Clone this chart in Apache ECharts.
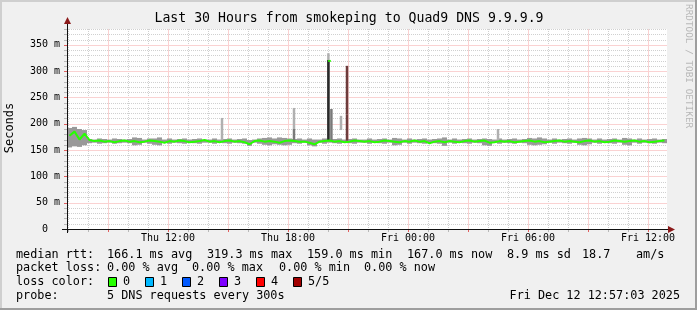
<!DOCTYPE html>
<html><head><meta charset="utf-8">
<script src="https://cdn.jsdelivr.net/npm/echarts@6/dist/echarts.min.js"></script>
<style>html,body{margin:0;padding:0;background:#f0f0f0}#c{width:697px;height:310px}</style>
</head><body><div id="c"></div>
<script>
// time in hours since Thu 00:00
const START = 6.95;          // Thu 06:57
const END = 36.95;           // Fri 12:57
const STEP = 0.25;           // one sample every 15 min
const Y_MAX = 380;

const median = [
 177,185,170,181,169,167,168,166,167,165,
 167,168,166,167,165,166,168,167,166,164,
 167,166,168,167,165,166,167,169,166,167,
 165,167,168,166,167,165,161,167,168,166,
 167,166,164,167,168,167,166,166,164,161,
 166,167,168,166,167,165,166,168,167,166,
 167,165,166,168,167,166,165,167,166,168,
 166,167,163,166,167,165,167,166,165,167,
 168,166,167,168,164,165,167,166,167,165,
 166,167,168,166,167,165,166,167,168,166,
 167,166,165,167,168,166,167,165,166,168,
 167,166,167,168,166,167,165,166,167,168
];
const smokeLo = [
 155,157,156,159,
 163,164,162,163,164,162,163,164,163,
 159,160, 164,162, 160,159,
 164,162,164,163,162,164,163,162,164,164,162,164,163,162,164,163,162,158,164,162,
 160,159,161,160,159,160,
 163,162,164,
 159,157,
 164,162,164,163,162,164,163,162,164,164,162,164,163,162,164,
 159,160,
 164,162,164,163,162,164,163,162,
 158,
 164,162,164,163,162,164,163,
 159,158,
 164,162,164,163,162,164,163,
 160,159,160,161,
 164,162,164,163,162,164,
 160,159,161,
 164,162,164,163,162,164,
 160,159,
 164,162,164,163,162,164,163
];
const smokeHi = [
 192,194,190,188,
 171,170,172,171,170,172,171,170,171,
 174,173, 170,172, 172,174,
 170,172,170,171,172,170,171,172,170,170,172,170,171,172,170,171,172,169,170,172,
 173,174,172,174,173,172,
 171,172,170,
 172,170,
 170,172,170,171,172,170,171,172,170,170,172,170,171,172,170,
 173,172,
 170,172,170,171,172,170,171,172,
 174,
 170,172,170,171,172,170,171,
 172,171,
 170,172,170,171,172,170,171,
 173,172,174,172,
 170,172,170,171,172,170,
 172,173,172,
 170,172,170,171,172,170,
 173,172,
 170,172,170,171,172,170,171
];
// isolated smoke spikes: [time, low, high, tone]
const spikes = [
 [14.70, 168, 211, 0],
 [18.30, 190, 230, 0],
 [18.30, 168, 190, 1],
 [20.02, 168, 334, 0],
 [20.02, 168, 321, 2],
 [20.17, 168, 228, 1],
 [20.65, 188, 215, 0],
 [20.95, 217, 310, 3],
 [20.95, 168, 217, 3],
 [28.50, 168, 190, 0]
];
const medianPeaks = [[20.075, 319.3]];
const tickHours = [12, 18, 24, 30, 36];
const tickLabels = ['Thu 12:00', 'Thu 18:00', 'Fri 00:00', 'Fri 06:00', 'Fri 12:00'];
const statsRtt = ['166.1 ms avg', '319.3 ms max', '159.0 ms min', '167.0 ms now', '8.9 ms sd', '18.7', 'am/s'];
const statsLoss = ['0.00 % avg', '0.00 % max', '0.00 % min', '0.00 % now'];
const lossLabels = ['0', '1', '2', '3', '4', '5/5'];
const lossColors = ['#26ff00', '#00b8ff', '#0059ff', '#7e00ff', '#ff0000', '#a10000'];
const probeText = '5 DNS requests every 300s';
const stamp = 'Fri Dec 12 12:57:03 2025';
const title = 'Last 30 Hours from smokeping to Quad9 DNS 9.9.9.9';

const MONO = 'DejaVu Sans Mono';
const MINOR = '#d0d0d0';
const MAJOR = '#fad2d2';
const TONES = ['#b0b0b0', '#7a7a7a', '#2a2a2a', '#6e3c3c'];
const SPIKE_W = 0.125;

const hours = [];
for (let h = Math.ceil(START); h <= END; h++) hours.push(h);
const levels = [];
for (let v = 10; v <= Y_MAX; v += 10) levels.push(v);

const chart = echarts.init(document.getElementById('c'), null, {renderer: 'canvas'});

const G = {left: 67, top: 29, width: 600, height: 200};
const texts = [];
function T(x, y, text, extra) {
  texts.push(Object.assign({type: 'text', x, y, silent: true, style: Object.assign({text, font: '11.8px ' + MONO, fill: '#000', textVerticalAlign: 'middle'}, extra || {})}));
}
T(349, 19, title, {font: '13.2px ' + MONO, textAlign: 'center'});
T(16, 255, 'median rtt:');
const rttX = [107, 207, 307, 407, 507, 582, 636];
statsRtt.forEach((s, i) => T(rttX[i], 255, s));
T(16, 268, 'packet loss:');
const lossX = [107, 192, 279, 364];
statsLoss.forEach((s, i) => T(lossX[i], 268, s));
T(16, 282, 'loss color:');
lossLabels.forEach((s, i) => {
  const bx = 108 + i * 37;
  texts.push({type: 'rect', shape: {x: bx + 0.5, y: 277.5, width: 8, height: 9}, style: {fill: lossColors[i], stroke: '#000', lineWidth: 1}, silent: true});
  T(bx + 15, 282, s);
});
T(16, 296, 'probe:');
T(107, 296, probeText);
T(680, 296, stamp, {textAlign: 'right'});
texts.push({type: 'text', x: 10, y: 128, rotation: Math.PI / 2, silent: true,
  style: {text: 'Seconds', font: '12px ' + MONO, fill: '#000', textAlign: 'center', textVerticalAlign: 'middle'}});
texts.push({type: 'text', x: 688, y: 4, rotation: -Math.PI / 2, silent: true,
  style: {text: 'RRDTOOL / TOBI OETIKER', font: '9.4px ' + MONO, fill: '#b8b8b8', textAlign: 'left', textVerticalAlign: 'middle'}});

const frame = [
  {type: 'rect', shape: {x: 0, y: 0, width: 697, height: 310}, style: {fill: '#f0f0f0'}, silent: true, z: -10},
  {type: 'rect', shape: {x: 0, y: 0, width: 697, height: 2}, style: {fill: '#cfcfcf'}, silent: true, z: -9},
  {type: 'rect', shape: {x: 0, y: 0, width: 2, height: 310}, style: {fill: '#cfcfcf'}, silent: true, z: -9},
  {type: 'rect', shape: {x: 0, y: 308, width: 697, height: 2}, style: {fill: '#9e9e9e'}, silent: true, z: -9},
  {type: 'rect', shape: {x: 695, y: 0, width: 2, height: 310}, style: {fill: '#9e9e9e'}, silent: true, z: -9},
];
const axes = [
  {type: 'line', shape: {x1: 67.5, y1: 233, x2: 67.5, y2: 22}, style: {stroke: '#111', lineWidth: 1}, silent: true, z: 50},
  {type: 'line', shape: {x1: 62, y1: 229.5, x2: 670, y2: 229.5}, style: {stroke: '#111', lineWidth: 1}, silent: true, z: 50},
  {type: 'polygon', shape: {points: [[67.5, 17], [64, 24], [71, 24]]}, style: {fill: '#8b1a1a'}, silent: true, z: 51},
  {type: 'polygon', shape: {points: [[675, 229.5], [668, 226], [668, 233]]}, style: {fill: '#8b1a1a'}, silent: true, z: 51},
];

function gridLine(x1, y1, x2, y2, major) {
  return major
    ? {type: 'line', shape: {x1, y1, x2, y2}, style: {stroke: MAJOR, lineWidth: 1, fill: null}, z2: 2}
    : {type: 'line', shape: {x1, y1, x2, y2}, style: {stroke: MINOR, lineWidth: 1, lineDash: [1, 1], fill: null}, z2: 1};
}

const option = {
  animation: false,
  graphic: {elements: frame.concat(axes, texts)},
  grid: Object.assign({show: true, backgroundColor: '#ffffff', borderWidth: 0}, G),
  xAxis: {type: 'value', min: START, max: END, axisLine: {show: false}, axisTick: {show: false}, axisLabel: {show: false}, splitLine: {show: false}},
  yAxis: {type: 'value', min: 0, max: Y_MAX, interval: 10,
    axisLine: {show: false}, axisTick: {show: false},
    axisLabel: {fontFamily: MONO, fontSize: 10, color: '#000', margin: 7,
      formatter: v => (v === 0 ? '0  ' : (v % 50 === 0 && v <= 350 ? v + ' m' : ''))},
    splitLine: {show: false}},
  series: [
    { // vertical grid
      type: 'custom', z: 1, silent: true, clip: false,
      data: hours.map(h => [h, 0]),
      renderItem: (p, api) => {
        const h = api.value(0);
        const top = api.coord([h, Y_MAX]);
        const bot = api.coord([h, 0]);
        const x = Math.round(top[0]) + 0.5;
        const major = Math.round(h) % 3 === 0;
        return {type: 'group', children: [
          gridLine(x, top[1], x, bot[1], major),
          {type: 'line', shape: {x1: x, y1: bot[1], x2: x, y2: bot[1] + 3}, style: {stroke: major ? '#e06060' : '#b8b8b8', lineWidth: 1}}
        ]};
      }
    },
    { // horizontal grid
      type: 'custom', z: 1, silent: true, clip: false,
      data: levels.map(v => [START, v]),
      renderItem: (p, api) => {
        const v = api.value(1);
        const a = api.coord([START, v]);
        const b = api.coord([END, v]);
        const y = Math.round(a[1]) + 0.5;
        const major = Math.round(v) % 50 === 0;
        return {type: 'group', children: [
          gridLine(a[0], y, b[0], y, major),
          {type: 'line', shape: {x1: a[0] - 3, y1: y, x2: a[0], y2: y}, style: {stroke: major ? '#e06060' : '#b8b8b8', lineWidth: 1}}
        ]};
      }
    },
    { // smoke
      type: 'custom', z: 2, silent: true,
      data: median.map((m, i) => [START + i * STEP, smokeLo[i], smokeHi[i]]),
      renderItem: (p, api) => {
        const t = api.value(0);
        const a = api.coord([t, api.value(2)]);
        const b = api.coord([t + STEP, api.value(1)]);
        return {type: 'rect', shape: {x: a[0], y: a[1], width: b[0] - a[0], height: b[1] - a[1]}, style: {fill: '#999999'}};
      }
    },
    { // spikes
      type: 'custom', z: 3, silent: true,
      data: spikes,
      renderItem: (p, api) => {
        const t = api.value(0);
        const a = api.coord([t - SPIKE_W / 2, api.value(2)]);
        const b = api.coord([t + SPIKE_W / 2, api.value(1)]);
        return {type: 'rect', shape: {x: a[0], y: a[1], width: b[0] - a[0], height: b[1] - a[1]}, style: {fill: TONES[api.value(3)]}};
      }
    },
    { // median line
      type: 'line', z: 4, silent: true, symbol: 'none',
      data: median.map((m, i) => [START + (i + 0.5) * STEP, m]),
      lineStyle: {color: '#26ff00', width: 2}
    },
    { // median peak
      type: 'scatter', z: 5, silent: true, symbol: 'rect', symbolSize: [3, 2],
      data: medianPeaks, itemStyle: {color: '#26ff00'}
    },
    { // x labels
      type: 'custom', z: 5, silent: true, clip: false,
      data: tickHours.map((h, i) => [h, i]),
      renderItem: (p, api) => {
        const c = api.coord([api.value(0), 0]);
        return {type: 'text', x: c[0], y: c[1] + 9, style: {text: tickLabels[api.value(1)], font: '10px ' + MONO, fill: '#000', textAlign: 'center', textVerticalAlign: 'middle'}};
      }
    }
  ]
};
chart.setOption(option);
</script>
</body></html>
